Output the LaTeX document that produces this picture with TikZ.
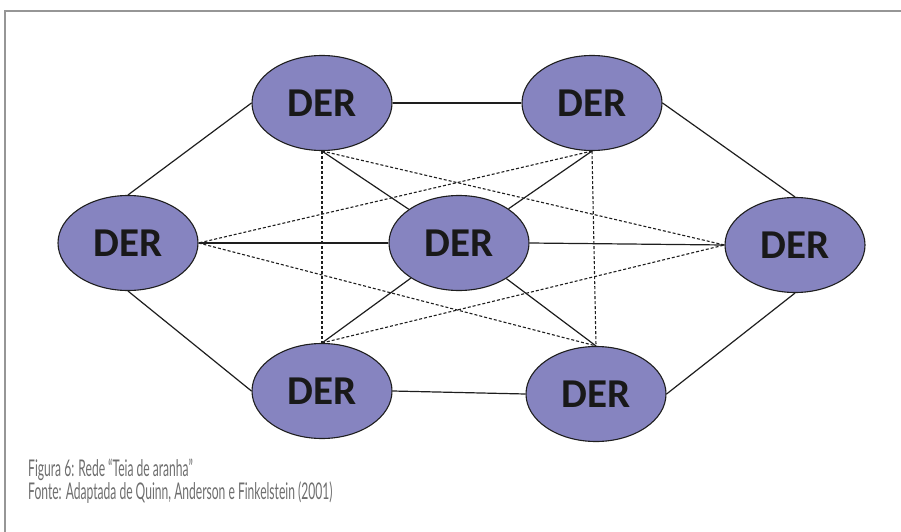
\documentclass[tikz,border=0pt]{standalone}
\usepackage{fontspec}
\setmainfont{Carlito}
\newfontfamily\capfont{Lato}
\usetikzlibrary{shapes.geometric}
\definecolor{derfill}{RGB}{134,132,192}
\definecolor{framegray}{RGB}{150,150,150}
\definecolor{capgray}{RGB}{110,110,110}
\definecolor{linecol}{RGB}{30,30,30}
\tikzset{
  der/.style={ellipse, draw=linecol, line width=1.1pt, fill=derfill, minimum width=140pt, minimum height=95pt, inner sep=0pt, font=\bfseries\fontsize{41}{41}\selectfont, text=black!90},
  solidlink/.style={draw=linecol, line width=1.2pt},
  dashlink/.style={draw=linecol, line width=1.1pt, dash pattern=on 3pt off 2pt},
  captext/.style={anchor=base west, inner sep=0pt, text=capgray, font=\capfont\fontsize{23}{23}\selectfont}
}
\begin{document}
\begin{tikzpicture}[x=1pt,y=-1pt]
\useasboundingbox (0,0) rectangle (901,532);
\draw[framegray, line width=2pt] (901,11) -- (5,11) -- (5,532);
\node[der] (TL) at (322,103) {DER};
\node[der] (TR) at (592,103) {DER};
\node[der] (L) at (128,243) {DER};
\node[der] (C) at (459,243) {DER};
\node[der] (R) at (795,245) {DER};
\node[der] (BL) at (322,391) {DER};
\node[der] (BR) at (596,394) {DER};
% dashed links
\path[dashlink] (TL.south) -- (BL.north);
\path[dashlink] (TR.south) -- (BR.north);
\path[dashlink] (TL.south) -- (R.west);
\path[dashlink] (TR.south) -- (L.east);
\path[dashlink] (L.east) -- (BR.north);
\path[dashlink] (BL.north) -- (R.west);
% solid links
\path[solidlink] (TL.east) -- (TR.west);
\path[solidlink] (BL.east) -- (BR.west);
\path[solidlink] (L.north) -- (TL.west);
\path[solidlink] (L.south) -- (BL.west);
\path[solidlink] (TR.east) -- (R.north);
\path[solidlink] (R.south) -- (BR.east);
\path[solidlink] (L.east) -- (C.west);
\path[solidlink] (C.east) -- (R.west);
\path[solidlink] (TL.south) -- (C);
\path[solidlink] (TR.south) -- (C);
\path[solidlink] (BL.north) -- (C);
\path[solidlink] (BR.north) -- (C);
\node[captext] (cap1) at (28,476) {\scalebox{0.525}[1]{Figura 6: Rede “Teia de aranha”}};
\node[captext] (cap2) at (28,499) {\scalebox{0.525}[1]{Fonte: Adaptada de Quinn, Anderson e Finkelstein (2001)}};
\end{tikzpicture}
\end{document}
